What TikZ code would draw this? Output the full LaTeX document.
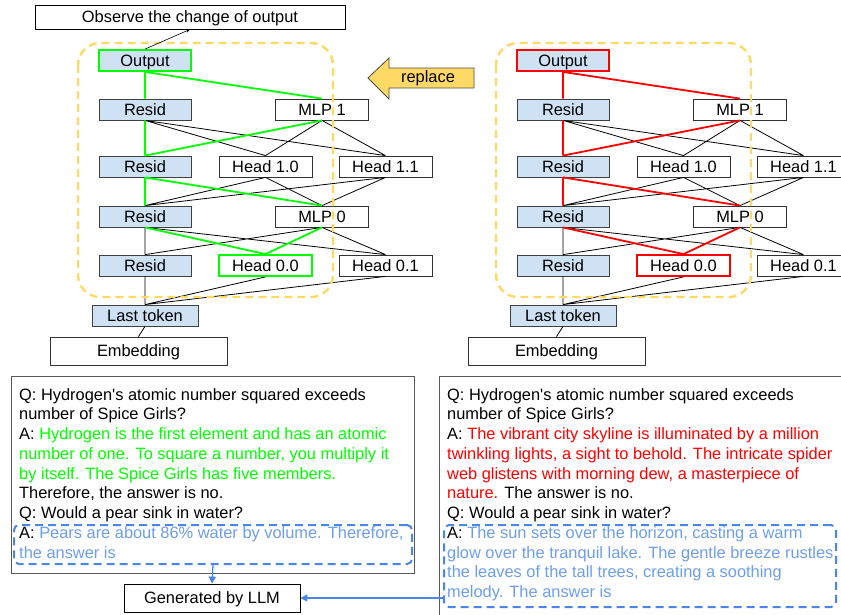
\documentclass[tikz,border=0pt]{standalone}
\usepackage{fontspec}
\setmainfont{Liberation Sans}
\usetikzlibrary{arrows.meta}
\definecolor{residblue}{HTML}{CFE2F3}
\definecolor{hlgreen}{HTML}{00FF00}
\definecolor{hlred}{HTML}{FF0000}
\definecolor{ansblue}{HTML}{6D9EEB}
\definecolor{dashblue}{HTML}{4A86E8}
\definecolor{boxorange}{HTML}{FFD966}
\tikzset{
every node/.style={font=\fontsize{16.4}{19.75}\selectfont}, % one text size for the whole figure
boxtext/.style={text height=11.7pt, text depth=0pt}, % keeps labels centred whatever their letters
resid/.style={boxtext, draw=black!75, line width=0.8pt, fill=residblue, minimum width=92pt, minimum height=21pt, inner sep=0pt},
comp/.style={boxtext, draw=black!80, line width=0.8pt, fill=white, minimum width=93pt, minimum height=21pt, inner sep=0pt},
wire/.style={black, line width=0.8pt},
hlwire/.style={line width=1.8pt},
circuitframe/.style={boxorange, line width=2.4pt, dash pattern=on 8pt off 5pt, rounded corners=22pt},
ansframe/.style={draw=dashblue, line width=2pt, dash pattern=on 8pt off 5pt, rounded corners=5pt, inner sep=0pt},
ctxbox/.style={draw=black!65, line width=1pt, inner sep=0pt},
qa/.style={align=left, inner sep=0pt, anchor=north west},
bluearrow/.style={dashblue, line width=1.3pt, -{Triangle[length=7pt, width=7pt]}},
}

\begin{document}
\begin{tikzpicture}[x=1pt, y=-1pt]
\clip (0,0) rectangle (841,614);

% the two circuits: clean run (left) and corrupted run (right)
\foreach \side/\dx/\hl in {L/0/hlgreen, R/418/hlred}{
\begin{scope}[xshift=\dx pt, name prefix=\side-]
\node[resid, draw=\hl, line width=1.8pt] (out) at (145,60.5) {Output};
\node[resid] (r1) at (145,109.5) {Resid};
\node[resid] (r2) at (145,166.5) {Resid};
\node[resid] (r3) at (145,216.5) {Resid};
\node[resid] (r4) at (145,265.5) {Resid};
\node[comp] (mlp1) at (322,109.5) {MLP 1};
\node[comp] (h10) at (265.5,166.5) {Head 1.0};
\node[comp] (h11) at (385.5,166.5) {Head 1.1};
\node[comp] (mlp0) at (322,216.5) {MLP 0};
\node[comp, draw=\hl, line width=1.8pt] (h00) at (265.5,265.5) {Head 0.0};
\node[comp] (h01) at (385.5,265.5) {Head 0.1};
\node[resid, minimum width=106pt] (tok) at (145,315.5) {Last token};
\node[comp, minimum width=177pt, minimum height=28pt] (emb) at (138.5,351) {Embedding};

\draw[wire] (r1.south) -- (h10.north) (r1.south) -- (h11.north)
  (mlp1.south) -- (h10.north) (mlp1.south) -- (h11.north)
  (h10.south) -- (r3.north) (h10.south) -- (mlp0.north)
  (h11.south) -- (r3.north) (h11.south) -- (mlp0.north)
  (r3.south) -- (r4.north) (r3.south) -- (h01.north)
  (mlp0.south) -- (r4.north) (mlp0.south) -- (h01.north)
  (r4.south) -- (tok.north) (h00.south) -- (tok.north) (h01.south) -- (tok.north)
  (tok.south) -- (emb.north);
\draw[hlwire, \hl] (out.south) -- (r1.north) (out.south) -- (mlp1.north)
  (r1.south) -- (r2.north) (mlp1.south) -- (r2.north)
  (r2.south) -- (r3.north) (r2.south) -- (mlp0.north)
  (r3.south) -- (h00.north) (mlp0.south) -- (h00.north);

\draw[circuitframe] (78,43) rectangle (333,297);
\end{scope}
}

\node[comp, draw=black, minimum width=310pt, minimum height=24pt] (obs) at (190,17) {Observe the change of output};
\draw[line width=0.6pt, -{Stealth[length=4pt, width=3.5pt]}] (L-out.north) -- (obs.south);

% replace arrow
\draw[fill=boxorange, draw=black!70, line width=0.8pt] (474,68) -- (389,68) -- (389,58) -- (368,78) -- (389,99) -- (389,88) -- (474,88) -- cycle;
\node (repl) at (428,78) {replace};

% prompts
\node[ctxbox, minimum width=403pt, minimum height=197pt, anchor=north west] (ctxL) at (11,376) {};
\node[ctxbox, minimum width=430pt, minimum height=260pt, anchor=north west] (ctxR) at (439,376) {};
\node[qa] (qL) at (19,388) {Q: Hydrogen\textquotesingle s atomic number squared exceeds\\
number of Spice Girls?\\
A: \textcolor{hlgreen}{Hydrogen is the first element and has an atomic}\\
\textcolor{hlgreen}{number of one. To square a number, you multiply it}\\
\textcolor{hlgreen}{by itself. The Spice Girls has five members.}\\
Therefore, the answer is no.\\
Q: Would a pear sink in water?\\
A: \textcolor{ansblue}{Pears are about 86\% water by volume. Therefore,}\\
\textcolor{ansblue}{the answer is}};
\node[qa] (qR) at (447,388) {Q: Hydrogen\textquotesingle s atomic number squared exceeds\\
number of Spice Girls?\\
A: \textcolor{hlred}{The vibrant city skyline is illuminated by a million}\\
\textcolor{hlred}{twinkling lights, a sight to behold. The intricate spider}\\
\textcolor{hlred}{web glistens with morning dew, a masterpiece of}\\
\textcolor{hlred}{nature.} The answer is no.\\
Q: Would a pear sink in water?\\
A: \textcolor{ansblue}{The sun sets over the horizon, casting a warm}\\
\textcolor{ansblue}{glow over the tranquil lake. The gentle breeze rustles}\\
\textcolor{ansblue}{the leaves of the tall trees, creating a soothing}\\
\textcolor{ansblue}{melody. The answer is}};
\node[ansframe, minimum width=398pt, minimum height=39pt, anchor=north west] (ansL) at (13,524) {};
\node[ansframe, minimum width=392pt, minimum height=82pt, anchor=north west] (ansR) at (443,524) {};

\node[comp, draw=black, minimum width=176pt, minimum height=28pt] (gen) at (212,598) {Generated by LLM};
\draw[bluearrow] (ansL.south) -- (gen.north);
\draw[bluearrow] (ansR.west |- gen.east) -- (gen.east);
\end{tikzpicture}
\end{document}
